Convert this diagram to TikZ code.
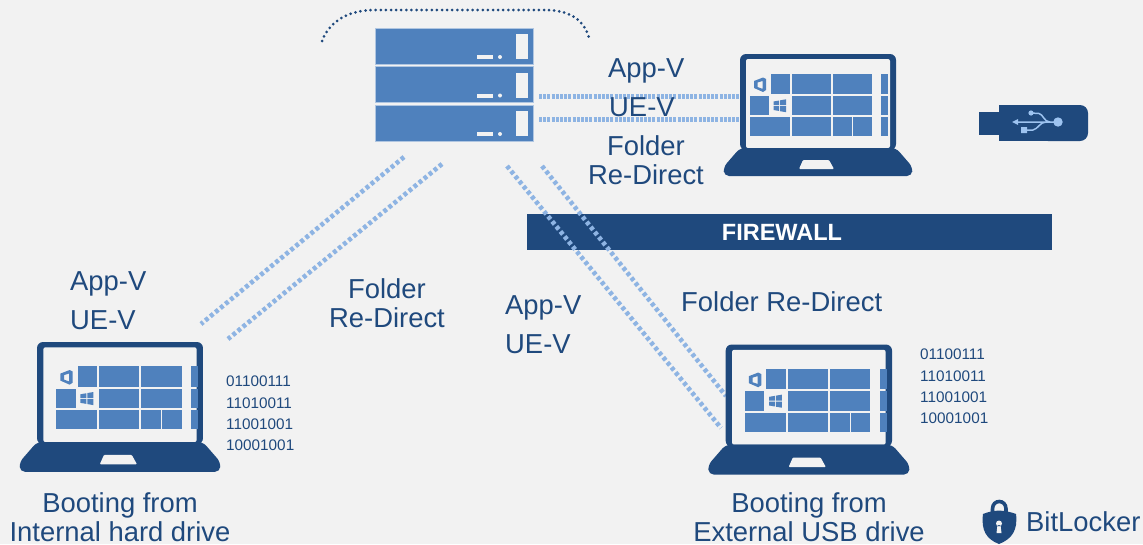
\documentclass[tikz,border=0pt]{standalone}
\usepackage{fontspec}
\setmainfont{Liberation Sans}

\definecolor{darkblue}{HTML}{1F497D}
\definecolor{tileblue}{HTML}{4F81BD}
\definecolor{linkblue}{HTML}{8EB4E3}
\definecolor{usbblue}{HTML}{9DC3F0}
\definecolor{pagegrey}{HTML}{F2F2F2}

\begin{document}
\begin{tikzpicture}
    [
        x = 1pt, y = -1pt,
        label/.style = {inner sep = 0, text = darkblue, align = center, font = \fontsize{27.4}{29}\selectfont},
        labelleft/.style = {label, anchor = base west},
        bits/.style = {inner sep = 0, text = darkblue, anchor = north west, align = left, font = \fontsize{15.3}{21.3}\selectfont},
        link/.style = {draw = linkblue, line width = 5pt, dash pattern = on 3pt off 1.2pt},
        linkdiag/.style = {draw = linkblue, line width = 4.6pt, dash pattern = on 3.8pt off 2.7pt},
        serverbox/.style = {fill = tileblue, draw = tileblue!45!white, line width = .7pt, inner sep = 0, minimum width = 158pt, minimum height = 36pt},
        laptop/.pic = {
            \fill [darkblue, rounded corners = 6pt] (0,96) -- (0,0) -- (156,0) -- (156,96) -- cycle;
            \fill [pagegrey, rounded corners = 2pt] (6,5) rectangle (150,94);
            \fill [darkblue, rounded corners = 5pt] (6,94) -- (150,94) -- (156,94) -- (172.5,113) -- (172,122) -- (-16,122) -- (-16.5,113) -- (0,94) -- cycle;
            \fill [pagegrey, rounded corners = 1pt] (63,106) -- (89,106) -- (94,115) -- (59,115) -- cycle;
            \begin{scope}[#1]
                \foreach \xa/\xb/\ya/\yb in {31/50/20/40, 51.5/91/20/40, 92.5/132/20/40, 141/148/20/40,
                        10/29/42/61, 51.5/91/42/61, 92.5/132/42/61, 141/148/42/61,
                        10/50/63/82, 51.5/91/63/82, 92.5/112/63/82, 113/132/63/82, 141/148/63/82}{
                        \fill [tileblue] (\xa,\ya) rectangle (\xb,\yb);
                    }
                % office logo
                \fill [tileblue, even odd rule] (14,27) -- (23,23.5) -- (26,25) -- (26,36) -- (23,38) -- (14,34) -- cycle
                    (17.5,28.5) -- (22.5,27) -- (22.5,34.8) -- (17.5,33) -- cycle;
                % windows logo
                \fill [tileblue] (33.5,47.5) -- (39.2,46.5) -- (39.2,51.2) -- (33.5,51.2) -- cycle
                    (40.2,46.3) -- (46,45.3) -- (46,51.2) -- (40.2,51.2) -- cycle
                    (33.5,52.2) -- (39.2,52.2) -- (39.2,57) -- (33.5,56) -- cycle
                    (40.2,52.2) -- (46,52.2) -- (46,58.2) -- (40.2,57.2) -- cycle;
            \end{scope}
        },
    ]

    % page
    \fill [pagegrey] (0,0) rectangle (1143,544);
    \useasboundingbox (0,0) rectangle (1143,544);

    \node (firewallbar) [fill = darkblue, inner sep = 0, minimum width = 525pt, minimum height = 36pt] at (789.5,232) {};
    \node (firewall) [text = white, inner sep = 0, font = \fontsize{23.5}{24}\selectfont\bfseries] at (782,232) {FIREWALL};

    % server
    \draw [darkblue, line width = 3pt, line cap = round, dash pattern = on 0pt off 5.1pt]
    (322,41) .. controls (330,20) and (350,10) .. (375,10) -- (545,10) .. controls (570,10) and (585,20) .. (590,41);
    \foreach \n/\y in {1/46,2/84.5,3/123}{
            \node (server\n) [serverbox] at (454,\y) {};
            \fill [pagegrey] (515.5,\y-12) rectangle (528,\y+13);
            \fill [pagegrey] (477,\y+9) rectangle (493,\y+13);
            \fill [pagegrey] (500,\y+11) circle (2pt);
        }

    % links
    \coordinate (topa) at (539,96.5);
    \coordinate (topb) at (539,119.5);
    \coordinate (lapa) at (739,96.5);
    \coordinate (lapb) at (739,119.5);
    \coordinate (lefta) at (404,157);
    \coordinate (leftb) at (442,164);
    \coordinate (inta) at (201,324);
    \coordinate (intb) at (228,339);
    \coordinate (rightb) at (542,166);
    \coordinate (righta) at (507,166);
    \coordinate (extb) at (726,396);
    \coordinate (exta) at (721,428);

    \draw [link] (topa) -- (lapa);
    \draw [link] (topb) -- (lapb);
    \draw [linkdiag] (lefta) -- (inta);
    \draw [linkdiag] (leftb) -- (intb);
    \draw [linkdiag] (righta) -- (exta);
    \draw [linkdiag] (rightb) -- (extb);

    % laptops
    \pic (lapone) at (740,54) {laptop={}};
    \pic (laptwo) [scale = 1.064] at (37,342) {laptop={shift={(8.5,4)},xscale=.965,yscale=.95}};
    \pic (lapthree) [scale = 1.066] at (725.7,344.5) {laptop={shift={(8.3,4)},xscale=.965,yscale=.95}};

    % usb stick
    \fill [darkblue] (979,112) rectangle (1050,135);
    \fill [darkblue] (999,105) rectangle (1050,141);
    \fill [darkblue, rounded corners = 8pt] (1040,105) -- (1088,105) -- (1088,141) -- (1040,141) -- cycle;
    \draw [usbblue, line width = 1.5pt] (1016,122) -- (1057,122)
    (1031,113) -- (1039,113.5) .. controls (1043,114) and (1044,122) .. (1050,122)
    (1024,130) -- (1033,130) .. controls (1038,129) and (1040,122) .. (1046,122);
    \fill [usbblue] (1058,122) circle (4.7pt) (1031,113) circle (2.6pt) (1021,127) rectangle (1027,133)
    (1012,122) -- (1018,119) -- (1018,125) -- cycle;

    % lock
    \draw [darkblue, line width = 3.6pt] (992.5,513) -- (992.5,509) .. controls (992.5,499) and (1006,499) .. (1006,509) -- (1006,513);
    \fill [darkblue] (983,514) .. controls (988,512) and (992,511) .. (999,510.5) .. controls (1006,511) and (1011,512) .. (1016,514)
    .. controls (1018,530) and (1012,539) .. (999,544) .. controls (986,539) and (981,530) .. (983,514) -- cycle;
    \fill [pagegrey] (999,523.5) circle (3pt) (997.5,525) -- (1000.5,525) -- (1001.5,533) -- (996.5,533) -- cycle;

    % texts
    \node (topapp) [labelleft] at (608,77) {App-V};
    \node (topue) [labelleft] at (609,116) {UE-V};
    \node (topfolder) [label] at (646,160) {Folder\\Re-Direct};
    \node (leftapp) [labelleft] at (70,290) {App-V};
    \node (leftue) [labelleft] at (70,329) {UE-V};
    \node (leftfolder) [label] at (387,303) {Folder\\Re-Direct};
    \node (midapp) [labelleft] at (505,314) {App-V};
    \node (midue) [labelleft] at (505,353) {UE-V};
    \node (midfolder) [labelleft] at (681,311) {Folder Re-Direct};
    \node (bootint) [label] at (120,517) {Booting from\\Internal hard drive};
    \node (bootext) [label] at (809,517) {Booting from\\External USB drive};
    \node (bitlocker) [labelleft] at (1026,531) {BitLocker};
    \node (bitsint) [bits] at (226,376) {01100111\\11010011\\11001001\\10001001};
    \node (bitsext) [bits] at (920,349) {01100111\\11010011\\11001001\\10001001};

\end{tikzpicture}
\end{document}
